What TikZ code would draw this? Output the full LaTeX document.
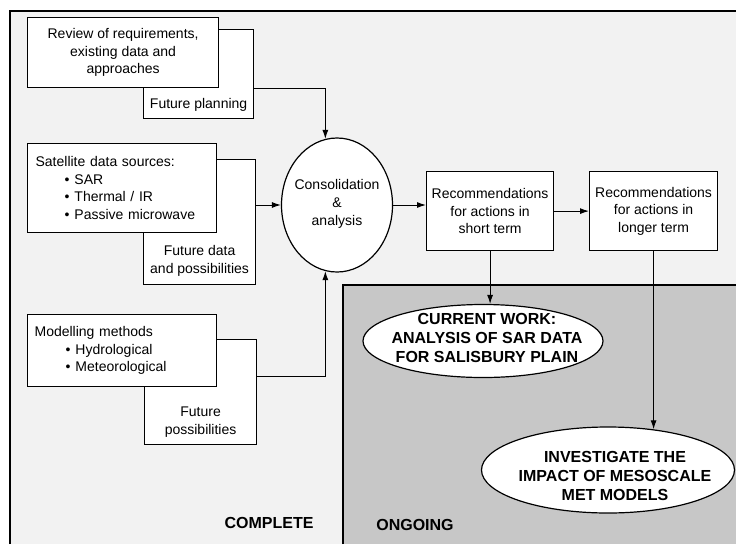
\documentclass[tikz,border=0pt]{standalone}
\usepackage{fontspec}
\setmainfont{Liberation Sans}
\usetikzlibrary{arrows.meta,positioning,shapes.geometric}
\definecolor{PaperGrey}{gray}{0.95}
\definecolor{OngoingGrey}{gray}{0.78}

\begin{document}
\begin{tikzpicture}[
  x=1pt,y=-1pt,
  box/.style={draw,fill=white,line width=1.2pt,inner sep=0pt,anchor=north west,
    align=center,font=\fontsize{14}{17.5}\selectfont},
  listbox/.style={box,align=left,inner xsep=8pt,text width=173pt},
  note/.style={inner sep=0pt,align=center,font=\fontsize{14}{18}\selectfont},
  oval/.style={ellipse,draw,fill=white,line width=1.2pt,inner sep=0pt},
  bigtext/.style={inner sep=0pt,align=center,font=\fontsize{16}{19}\selectfont\bfseries},
  a/.style={-{Latex[length=9pt,width=6pt]},line width=1pt}
]
  \useasboundingbox (0,0) rectangle (736,544);

  % complete / ongoing areas
  \fill[PaperGrey] (10,11) rectangle (736,544);
  \fill[OngoingGrey] (343,285) rectangle (736,544);
  \draw[line width=2pt] (10,544) -- (10,11) -- (736,11);
  \draw[line width=1.5pt] (343,544) -- (343,285) -- (736,285);
  \node[bigtext] (complete) at (269,523) {COMPLETE};
  \node[bigtext] (ongoing) at (415,525) {ONGOING};

  % inputs (back boxes first)
  \node[box,minimum width=110pt,minimum height=89pt] (plan) at (143,29) {};
  \node[box,minimum width=191pt,minimum height=70pt] (review) at (27,17)
    {Review of requirements,\\existing data and\\approaches};
  \node[note,above=8pt of plan.south] (plannote) {Future planning};

  \node[box,minimum width=112pt,minimum height=125pt] (splan) at (143,159) {};
  \node[listbox,minimum width=189pt,minimum height=89pt] (sat) at (27,143)
    {Satellite data sources:\\
     \hspace*{29pt}\textbullet\hspace{5pt}SAR\\
     \hspace*{29pt}\textbullet\hspace{5pt}Thermal / IR\\
     \hspace*{29pt}\textbullet\hspace{5pt}Passive microwave};
  \node[note,above=9pt of splan.south] (splannote) {Future data\\and possibilities};

  \node[box,minimum width=112pt,minimum height=105pt] (mplan) at (144,339) {};
  \node[listbox,inner xsep=7pt,text width=175pt,minimum width=189pt,
    minimum height=72pt] (model) at (27,314)
    {Modelling methods\\
     \hspace*{31pt}\textbullet\hspace{5pt}Hydrological\\
     \hspace*{31pt}\textbullet\hspace{5pt}Meteorological};
  \node[note,above=8pt of mplan.south] (mplannote) {Future\\possibilities};

  % consolidation and recommendations
  \node[oval,minimum width=111pt,minimum height=134pt] (cons) at (337,205) {};
  \node[note] (constext) at (337,204) {Consolidation\\\&\\analysis};
  \node[box,minimum width=127pt,minimum height=79pt] (short) at (426,171)
    {Recommendations\\for actions in\\short term};
  \node[box,minimum width=128pt,minimum height=79pt] (long) at (589,171)
    {Recommendations\\for actions in\\longer term};

  % ongoing work
  \node[oval,minimum width=240pt,minimum height=73pt] (cur) at (483,341) {};
  \node[bigtext] (curtext) at (487,338)
    {CURRENT WORK:\\ANALYSIS OF SAR DATA\\FOR SALISBURY PLAIN};
  \node[oval,minimum width=253pt,minimum height=86pt] (inv) at (608,470) {};
  \node[bigtext] (invtext) at (615,476)
    {INVESTIGATE THE\\IMPACT OF MESOSCALE\\MET MODELS};

  % connectors
  \draw[a] (plan.east |- review.south) -| (cons.100);
  \draw[a] (splan.east |- cons.west) -- (cons.west);
  \draw[a] ([yshift=15.5pt]mplan.east) -| (cons.260);
  \draw[a] (cons.east) -- (cons.east -| short.west);
  \draw[a] (short.east) -- (long.west);
  \draw[a] (short.south) -- (short.south |- cur.north);
  \draw[a] (long.south) -- (long.south |- inv.42);
\end{tikzpicture}
\end{document}
